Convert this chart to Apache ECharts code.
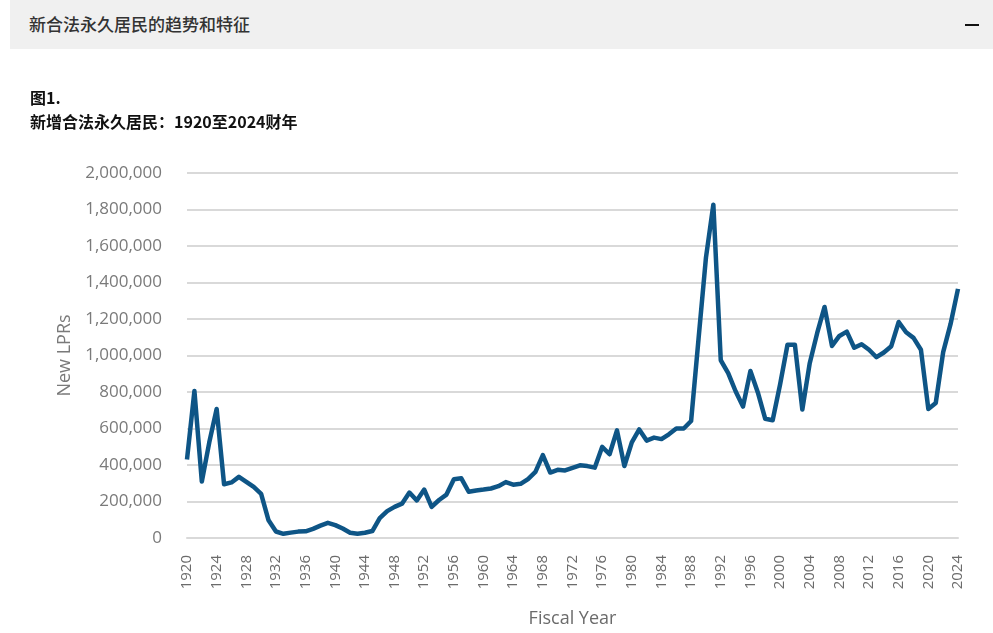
<!DOCTYPE html>
<html>
<head>
<meta charset="utf-8">
<script src="https://cdn.jsdelivr.net/npm/echarts@6/dist/echarts.min.js"></script>
<style>
html,body{margin:0;padding:0;background:#fff;width:993px;height:633px;overflow:hidden;}
#hdr{position:absolute;left:10px;top:0;width:983px;height:49px;background:#f0f0f0;}
#hdrTitle{position:absolute;left:19px;top:11px;font-family:"Noto Sans CJK SC";font-weight:500;font-size:17px;color:#333;}
#minus{position:absolute;left:955px;top:24px;width:14px;height:2px;background:#111;}
#fig{position:absolute;left:30px;top:85px;font-family:"Noto Sans CJK SC";font-weight:bold;font-size:16px;color:#111;}
#sub{position:absolute;left:30px;top:109px;font-family:"Noto Sans CJK SC";font-weight:bold;font-size:16px;color:#111;}
#chart{position:absolute;left:0;top:0;width:993px;height:633px;}
</style>
</head>
<body>
<div id="chart"></div>
<div id="hdr"><div id="hdrTitle">新合法永久居民的趋势和特征</div><div id="minus"></div></div>
<div id="fig">图1.</div>
<div id="sub">新增合法永久居民：1920至2024财年</div>
<script>
const years = [];
for (let y = 1920; y <= 2024; y++) years.push(String(y));
const newLPRs = [
  430001, 805228, 309556, 522919, 706896, 294314, 304488, 335175, 307255, 279678,
  241700, 97139, 35576, 23068, 29470, 34956, 36329, 50244, 67895, 82998,
  70756, 51776, 28781, 23725, 28551, 38119, 108721, 147292, 170570, 188317,
  249187, 205717, 265520, 170434, 208177, 237790, 321625, 326867, 253265, 260686,
  265398, 271344, 283763, 306260, 292248, 296697, 323040, 361972, 454448, 358579,
  373326, 370478, 384685, 398515, 393919, 385378, 499093, 458755, 589810, 394244,
  524295, 595014, 533624, 550052, 541811, 568149, 600027, 599889, 641346, 1090172,
  1535872, 1826595, 973977, 903916, 803993, 720177, 915560, 797847, 653206, 644787,
  841002, 1058902, 1059356, 703542, 957883, 1122257, 1266129, 1052415, 1107126, 1130818,
  1042625, 1062040, 1031631, 990553, 1016518, 1051031, 1183505, 1127167, 1096611, 1031765,
  707362, 740002, 1018349, 1172910, 1365000
];
const yTicks = { min: 0, max: 2000000, interval: 200000 };

const chart = echarts.init(document.getElementById('chart'), null, {renderer:'canvas'});
chart.setOption({
  animation: false,
  grid: { left: 187, right: 35, top: 173, bottom: 91 },
  xAxis: {
    type: 'category',
    data: years,
    boundaryGap: false,
    name: 'Fiscal Year',
    nameLocation: 'middle',
    nameGap: 72,
    nameTextStyle: { fontFamily: 'Open Sans', fontSize: 18, color: '#6b6b6b' },
    axisLine: { show: true, lineStyle: { color: '#d9d9d9', width: 2 } },
    axisTick: { show: false },
    axisLabel: {
      interval: 3,
      rotate: 90,
      margin: 17,
      fontFamily: 'Open Sans',
      fontSize: 15,
      color: '#6b6b6b'
    },
    splitLine: { show: false }
  },
  yAxis: {
    type: 'value',
    min: yTicks.min, max: yTicks.max, interval: yTicks.interval,
    name: 'New LPRs',
    nameLocation: 'middle',
    nameGap: 103,
    nameRotate: 90,
    nameTextStyle: { fontFamily: 'Open Sans', fontSize: 18, color: '#7a7a7a' },
    axisLine: { show: false },
    axisTick: { show: false },
    axisLabel: {
      margin: 25,
      fontFamily: 'Open Sans',
      fontSize: 17,
      color: '#7a7a7a',
      formatter: v => v.toLocaleString('en-US')
    },
    splitLine: { lineStyle: { color: '#d9d9d9', width: 2 } }
  },
  series: [{
    type: 'line',
    data: newLPRs,
    symbol: 'none',
    lineStyle: { color: '#0e5586', width: 4.5, join: 'round' }
  }]
});
</script>
</body>
</html>
